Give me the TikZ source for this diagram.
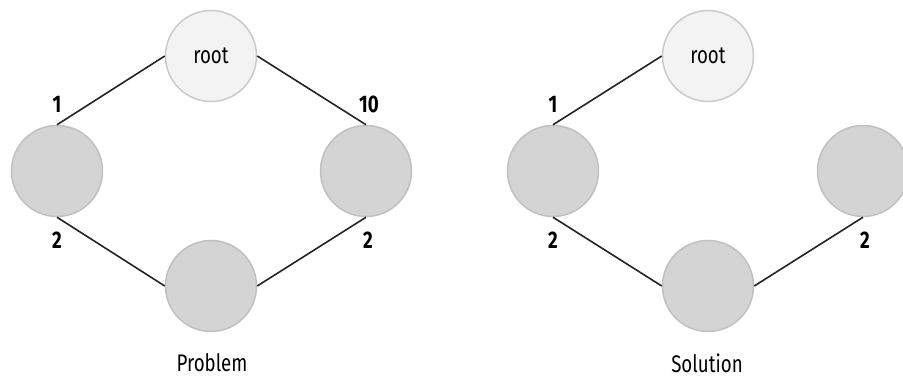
\documentclass[tikz,border=0pt]{standalone}
\usepackage{fontspec}
\setmainfont{Fira Sans}[FakeStretch=0.78]
\usetikzlibrary{positioning}
\definecolor{rootfill}{RGB}{243,243,243}
\definecolor{rootborder}{RGB}{202,202,202}
\definecolor{nodefill}{RGB}{212,212,212}
\definecolor{nodeborder}{RGB}{192,192,192}
\definecolor{edgecol}{RGB}{35,35,35}

\begin{document}
\begin{tikzpicture}[
    x=1pt, y=-1pt,
    rootnode/.style={circle, draw=rootborder, fill=rootfill, line width=1.5pt, minimum size=91pt, inner sep=0pt, font=\fontsize{24}{28}\selectfont},
    plainnode/.style={circle, draw=nodeborder, fill=nodefill, line width=1.5pt, minimum size=91pt, inner sep=0pt},
    edge/.style={draw=edgecol, line width=1.6pt},
    weight/.style={font=\fontsize{24}{28}\selectfont\bfseries, inner sep=0pt},
    caption/.style={font=\fontsize{24}{28}\selectfont}
]
    \useasboundingbox (0,0) rectangle (903,378);

    % 1. Problem (left)
    \node[rootnode] (proot) at (211, 56) {root};
    \node[plainnode] (pleft) at (57, 171) {};
    \node[plainnode] (pright) at (366, 171) {};
    \node[plainnode] (pbottom) at (211, 286) {};
    \node[caption] (pcap) at (212, 363) {Problem};

    \draw[edge] (proot.west) -- (pleft.north) node[weight, pos=1, above=11pt] {1};
    \draw[edge] (proot.east) -- (pright.north) node[weight, pos=1, above=11pt, xshift=3pt] {10};
    \draw[edge] (pleft.south) -- (pbottom.west) node[weight, pos=0, below=14pt] {2};
    \draw[edge] (pbottom.east) -- (pright.south) node[weight, pos=1, below=14pt, xshift=2pt] {2};

    % 2. Solution (right)
    \node[rootnode] (sroot) at (708, 56) {root};
    \node[plainnode] (sleft) at (553, 171) {};
    \node[plainnode] (sright) at (863, 171) {};
    \node[plainnode] (sbottom) at (708, 286) {};
    \node[caption] (scap) at (707, 363) {Solution};

    \draw[edge] (sroot.west) -- (sleft.north) node[weight, pos=1, above=11pt] {1};
    \draw[edge] (sleft.south) -- (sbottom.west) node[weight, pos=0, below=14pt] {2};
    \draw[edge] (sbottom.east) -- (sright.south) node[weight, pos=1, below=14pt, xshift=2pt] {2};

\end{tikzpicture}
\end{document}
